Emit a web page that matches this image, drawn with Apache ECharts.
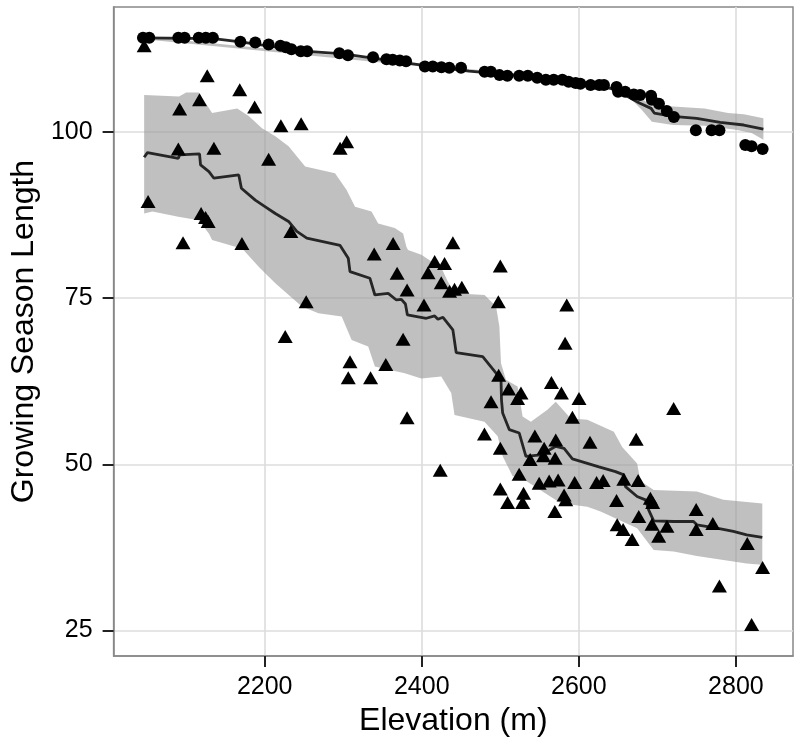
<!DOCTYPE html>
<html><head><meta charset="utf-8">
<script src="https://cdn.jsdelivr.net/npm/echarts@6/dist/echarts.min.js"></script>
<style>html,body{margin:0;padding:0;background:#fff}#c{width:800px;height:744px}</style>
</head><body><div id="c"></div>
<script>
// ---- tick labels ----
const xTicks = [2200, 2400, 2600, 2800];
const yTicks = [25, 50, 75, 100];

// ---- circle series (points) ----
const circleX = [2045,2053,2090,2098,2116,2125,2134,2169,2188,2205,2220,2227,2234,2246,2254,2295,2306,2338,2355,2363,2372,2380,2404,2414,2425,2435,2450,2480,2488,2499,2509,2524,2535,2547,2558,2568,2579,2587,2596,2602,2615,2626,2632,2648,2650,2659,2670,2678,2692,2693,2702,2712,2721,2749,2769,2779,2812,2820,2834];
const circleY = [114.1,114.1,114.1,114.1,114.1,114.1,114.1,113.5,113.4,113.1,112.9,112.7,112.4,112.1,112.1,111.8,111.5,111.2,110.9,110.8,110.7,110.6,109.8,109.8,109.7,109.6,109.6,109.0,109.0,108.5,108.4,108.4,108.4,108.1,107.8,107.8,107.8,107.5,107.3,107.2,107.0,107.0,107.0,106.7,106.0,106.0,105.6,105.5,105.4,104.8,104.2,103.1,102.2,100.2,100.2,100.2,98.0,97.8,97.4];

// ---- triangle series (points) ----
const triX = [2046.5,2126.8,2168.2,2117,2091.7,2187.2,2220.6,2246.4,2304.3,2296,2090,2135.3,2205,2051.5,2119,2124.7,2128,2096,2171,2233.3,2363.5,2339.4,2368.6,2416.4,2429,2408,2424.8,2435.4,2381.3,2402.8,2252.8,2226.1,2376.2,2308.6,2354.2,2306.4,2334.8,2381.3,2423.5,2439.6,2500,2441.7,2451,2497.5,2584.6,2582.5,2497.9,2510.6,2526.3,2522,2488.2,2565.1,2577.8,2600.2,2591.8,2479.8,2500,2544,2570.6,2555.8,2614.2,2673,2538,2555,2569.8,2720.7,2524,2500,2509.3,2529.6,2528.4,2549.5,2562.2,2573.6,2581.2,2583.3,2569.4,2594.7,2622.6,2631,2648,2657.3,2675.5,2648.8,2656.4,2667.8,2676.3,2691.1,2694,2693.2,2701.7,2712.2,2749.4,2749.4,2770.6,2814.5,2834,2779,2820];
const triY = [112.9,108.4,106.3,104.8,103.4,103.7,100.9,101.2,98.5,97.5,97.4,97.5,95.85,89.5,87.7,87.1,86.5,83.3,83.2,85.0,83.2,81.6,78.7,80.5,80.2,78.8,77.3,76.0,76.2,73.95,74.45,69.2,68.8,65.4,65.0,63.0,63.0,57.0,49.1,83.3,79.8,76.3,76.6,74.45,73.95,68.2,63.4,61.3,60.7,59.9,59.4,62.3,60.7,59.9,57.07,54.56,52.4,54.26,53.66,52.4,53.3,53.76,50.7,51.3,50.9,58.4,48.5,46.3,44.25,45.65,44.25,47.15,47.5,47.65,45.4,44.65,42.9,47.25,47.25,47.55,44.55,47.75,47.55,40.9,40.2,38.7,42.15,44.9,44.25,41.0,39.2,40.7,43.2,40.2,41.1,38.1,34.5,31.7,25.9];

// ---- circle smoother ----
const cLineX = [2046,2135,2169,2250,2300,2400,2460,2500,2545,2600,2645,2677,2692,2696,2720,2750,2780,2810,2835];
const cLineY = [114.1,114.0,113.5,112.1,111.7,110.0,109.1,108.7,108.2,107.4,106.4,104.3,103.5,102.8,102.3,102.0,101.4,101.0,100.4];
const cUpX = [2046,2400,2600,2650,2670,2680,2693,2720,2760,2790,2810,2835];
const cUpY = [114.3,110.2,107.6,106.6,105.5,105.0,103.8,103.8,103.5,102.8,102.6,102.0];
const cLoX = [2046,2400,2600,2650,2670,2680,2693,2720,2760,2800,2820,2835];
const cLoY = [113.9,109.8,107.2,106.2,104.5,103.3,101.5,101.0,100.9,100.3,99.8,98.8];

// ---- triangle smoother ----
const tLineX = [2046.5,2050.7,2090,2091.7,2117,2118.3,2129,2135.3,2167,2170.3,2188,2200.8,2213.5,2230.4,2240.9,2253.6,2296,2306.4,2308.6,2334,2340.3,2357.2,2367.7,2374,2379.2,2381.7,2405.8,2416.4,2420.6,2427,2439.6,2443.8,2477.6,2494.6,2500.9,2501.5,2503,2511.5,2524.1,2532.6,2551.6,2570.6,2581.2,2591.8,2625.6,2646.7,2657.3,2659.4,2674.2,2684.8,2689,2695.3,2720.7,2746,2750.3,2775.6,2796.8,2813.7,2833.6];
const tLineY = [96.15,96.85,96.0,96.5,96.65,95.0,94.0,93.0,93.5,91.5,89.7,88.7,87.7,86.5,85.0,84.0,82.9,80.97,78.96,77.96,75.45,75.7,74.7,74.8,74.1,72.45,71.95,72.3,71.8,72.1,70.2,66.8,66.2,63.7,62.7,59.7,57.7,55.2,54.7,51.2,51.4,52.7,52.4,50.8,49.6,48.9,48.4,46.65,45.15,44.65,43.1,41.5,41.4,41.4,40.9,40.4,39.9,39.4,39.0];
const tUpX = [2046.5,2091,2100,2116,2133,2165,2180,2196.5,2213.5,2230.4,2251.5,2289.5,2304.3,2315,2336,2344.5,2365.6,2376.2,2380.4,2382.5,2399.4,2425,2433,2442,2480,2494.6,2498.8,2500.9,2507.2,2522,2528.4,2538.9,2560,2570.6,2589.7,2610.8,2644.6,2655.2,2674.2,2678.4,2695.3,2750.3,2784.1,2833.6];
const tUpY = [105.5,105.3,105.9,105.9,102.8,103.5,102.3,100.5,99.3,97.8,94.75,93.75,91.24,88.7,88.0,86.2,85.5,84.7,82.7,82.2,81.5,79.5,77.5,75.7,75.45,73.7,70.7,65.2,62.7,61.7,57.2,56.4,58.2,59.4,56.9,56.7,54.9,52.6,50.1,47.5,46.15,45.9,44.65,44.1];
const tLoX = [2046.5,2057,2090,2116,2128.9,2133,2162.7,2171,2192.3,2213.5,2247.3,2268.4,2298,2310.7,2331.8,2340.3,2378.3,2399.4,2424.8,2437.5,2441.7,2479.8,2496.7,2503,2515.7,2524,2547.4,2577,2610.8,2627.7,2674.2,2695.3,2720.7,2750.3,2784.1,2813.7,2833.6];
const tLoY = [87.7,88.0,87.2,86.7,84.7,83.7,82.7,82.47,79.7,77.2,73.7,72.7,72.2,68.7,67.7,64.7,63.7,62.9,63.2,60.7,57.4,56.4,54.2,51.2,48.2,48.15,46.4,44.15,43.6,42.9,40.4,37.1,36.9,36.2,35.6,35.1,34.9];

function pairs(xs, ys) { return xs.map(function (x, i) { return [x, ys[i]]; }); }
function ribbonPoly(ux, uy, lx, ly) { return pairs(ux, uy).concat(pairs(lx, ly).reverse()); }

function ribbonSeries(poly) {
  return {
    type: 'custom', data: poly, z: 1, silent: true, clip: true,
    encode: { x: 0, y: 1 },
    renderItem: function (params, api) {
      if (params.dataIndex !== 0) return null;
      var pts = poly.map(function (p) { return api.coord(p); });
      return { type: 'polygon', shape: { points: pts }, style: { fill: 'rgba(150,150,150,0.6)' } };
    }
  };
}

const FONT = "'Liberation Sans', Arial, Helvetica, sans-serif";
const chart = echarts.init(document.getElementById('c'), null, { renderer: 'canvas' });
chart.setOption({
  animation: false,
  backgroundColor: '#ffffff',
  grid: { left: 111, right: 7, top: 7, bottom: 88, show: true, borderColor: '#888888', borderWidth: 1.5, backgroundColor: 'transparent' },
  xAxis: {
    type: 'value', min: 2007.6, max: 2872.7,
    axisLine: { show: true, onZero: false, lineStyle: { color: '#888888', width: 1.5 } },
    axisTick: { show: true, inside: false, length: 11, lineStyle: { color: '#222', width: 2 }, customValues: xTicks },
    axisLabel: { customValues: xTicks, fontSize: 25, color: '#000', margin: 19, fontFamily: FONT,
      formatter: function (v) { return String(v); } },
    splitLine: { show: true, lineStyle: { color: '#dcdcdc', width: 1.6 } },
    name: 'Elevation (m)', nameLocation: 'middle', nameGap: 46,
    nameTextStyle: { fontSize: 32, color: '#000', fontFamily: FONT }
  },
  yAxis: {
    type: 'value', min: 21.18, max: 118.74,
    axisLine: { show: true, onZero: false, lineStyle: { color: '#888888', width: 1.5 } },
    axisTick: { show: true, inside: false, length: 11, lineStyle: { color: '#222', width: 2 }, customValues: yTicks },
    axisLabel: { customValues: yTicks, fontSize: 25, color: '#000', margin: 21, fontFamily: FONT,
      formatter: function (v) { return String(v); } },
    splitLine: { show: true, lineStyle: { color: '#dcdcdc', width: 1.6 } },
    name: 'Growing Season Length', nameLocation: 'middle', nameGap: 66,
    nameTextStyle: { fontSize: 32, color: '#000', fontFamily: FONT }
  },
  series: [
    ribbonSeries(ribbonPoly(cUpX, cUpY, cLoX, cLoY)),
    ribbonSeries(ribbonPoly(tUpX, tUpY, tLoX, tLoY)),
    { type: 'line', data: pairs(cLineX, cLineY), showSymbol: false, z: 2, silent: true,
      lineStyle: { color: '#262626', width: 2.8 } },
    { type: 'line', data: pairs(tLineX, tLineY), showSymbol: false, z: 2, silent: true,
      lineStyle: { color: '#262626', width: 2.8 } },
    { type: 'scatter', data: pairs(circleX, circleY), symbol: 'circle', symbolSize: 12, z: 3,
      itemStyle: { color: '#000', opacity: 1 } },
    { type: 'scatter', data: pairs(triX, triY), symbol: 'triangle', symbolSize: [15, 13], z: 3,
      itemStyle: { color: '#000', opacity: 1 } }
  ]
});
</script></body></html>
